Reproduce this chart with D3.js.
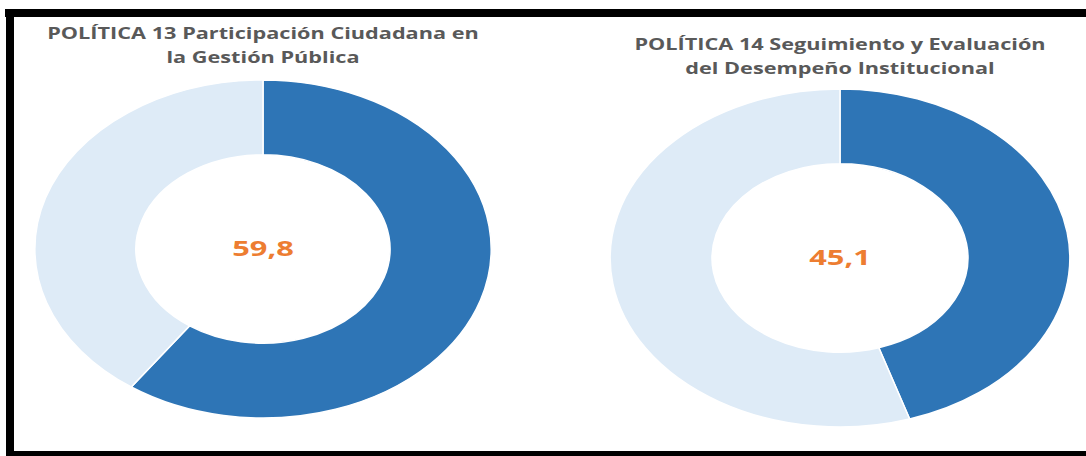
<!DOCTYPE html>
<html>
<head>
<meta charset="utf-8">
<script src="https://cdn.jsdelivr.net/npm/d3@7"></script>
<style>
  body { margin: 0; background: #fff; }
  svg { display: block; }
</style>
</head>
<body>
<script>
// datos de las dos políticas
var titles = [
  ["POLÍTICA 13 Participación Ciudadana en", "la Gestión Pública"],
  ["POLÍTICA 14 Seguimiento y Evaluación", "del Desempeño Institucional"]
];
var values = [59.8, 45.1];
var labels = ["59,8", "45,1"];

var width = 1086, height = 456;

var svg = d3.select("body")
  .append("svg")
  .attr("width", width)
  .attr("height", height);

svg.append("rect")
  .attr("width", width)
  .attr("height", height)
  .attr("fill", "#fff");

// marco negro (arriba, izquierda, abajo)
svg.append("rect").attr("x", 5).attr("y", 9).attr("width", width - 5).attr("height", 8).attr("fill", "#000");
svg.append("rect").attr("x", 6).attr("y", 9).attr("width", 8).attr("height", height - 9).attr("fill", "#000");
svg.append("rect").attr("x", 6).attr("y", 451).attr("width", width - 6).attr("height", 5).attr("fill", "#000");

var color = d3.scaleOrdinal().domain(["valor", "resto"]).range(["#2E75B6", "#DEEBF7"]);

var pie = d3.pie().sort(null).value(function(d) { return d.v; });

var R = 169;
var arc = d3.arc().innerRadius(R * 0.557).outerRadius(R);

// la imagen original está estirada en horizontal
var stretch = 1.4;

var panels = [
  { cx: 263, cy: 249, sx: 1.35, ty: 34 },
  { cx: 840, cy: 258, sx: 1.36, ty: 45 }
];

panels.forEach(function(p, i) {
  var g = svg.append("g")
    .attr("transform", "translate(" + p.cx + "," + p.cy + ") scale(" + p.sx + ",1)");

  var data = [{ k: "valor", v: values[i] }, { k: "resto", v: 100 - values[i] }];

  g.selectAll("path")
    .data(pie(data))
    .enter()
    .append("path")
    .attr("d", arc)
    .attr("fill", function(d) { return color(d.data.k); })
    .attr("stroke", "#fff")
    .attr("stroke-width", 1.5)
    .attr("vector-effect", "non-scaling-stroke");

  // título
  svg.append("g")
    .selectAll("text")
    .data(titles[i])
    .enter()
    .append("text")
    .attr("transform", function(d, j) {
      return "translate(" + p.cx + "," + (p.ty + j * 24) + ") scale(" + stretch + ",1)";
    })
    .attr("dy", "0.35em")
    .attr("text-anchor", "middle")
    .attr("font-family", "'Open Sans', sans-serif")
    .attr("font-weight", "bold")
    .attr("font-size", "15.5px")
    .attr("fill", "#595959")
    .text(function(d) { return d; });

  // valor central
  svg.append("text")
    .attr("transform", "translate(" + p.cx + "," + (p.cy - 1) + ") scale(" + stretch + ",1)")
    .attr("dy", "0.35em")
    .attr("text-anchor", "middle")
    .attr("font-family", "'Open Sans', sans-serif")
    .attr("font-weight", "bold")
    .attr("font-size", "22px")
    .attr("fill", "#ED7D31")
    .text(labels[i]);
});
</script>
</body>
</html>
